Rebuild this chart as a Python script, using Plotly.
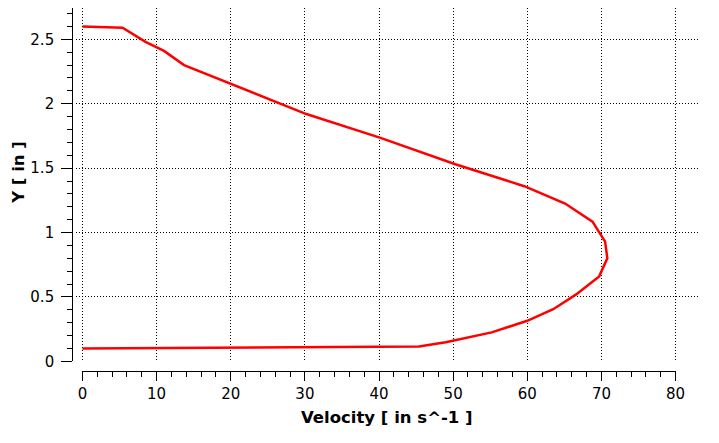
import plotly.graph_objects as go

# velocity profile (top -> bottom)
velocity = [0, 5.4, 8.5, 11.0, 13.7, 20.0, 30.2, 40.2, 50.3, 59.6, 65.1, 68.8,
            70.5, 70.8, 69.7, 66.6, 63.5, 60.0, 58.7, 55.2, 49.0, 45.4, 0]
y_pos = [2.6, 2.59, 2.48, 2.41, 2.3, 2.155, 1.92, 1.735, 1.53, 1.36, 1.225, 1.085,
         0.93, 0.8, 0.66, 0.52, 0.405, 0.315, 0.29, 0.225, 0.148, 0.115, 0.1]

x_ticks = [0, 10, 20, 30, 40, 50, 60, 70, 80]
y_ticks = [0, 0.5, 1, 1.5, 2, 2.5]

OFF = 8  # page body margin around the figure
W, H = 719 - 2 * OFF, 443 - 2 * OFF
FONT = "DejaVu Sans"
Y_TOP = (369 - OFF) / 131.6  # value at top of the visible plot area


def px_x(p):
    # window pixel -> paper fraction
    return (p - OFF) / W


def px_y(p):
    return 1 - (p - OFF) / H


fig = go.Figure()
fig.add_trace(go.Scatter(x=velocity, y=y_pos, mode="lines",
                         line=dict(color="#ff0000", width=2.5), showlegend=False))
# empty traces so the detached axes get their own subplots
fig.add_trace(go.Scatter(x=[], y=[], xaxis="x2", yaxis="y3", showlegend=False, hoverinfo="skip"))
fig.add_trace(go.Scatter(x=[], y=[], xaxis="x3", yaxis="y2", showlegend=False, hoverinfo="skip"))

grid = dict(showgrid=True, gridcolor="#000000", gridwidth=1, griddash="1px,2px",
            showticklabels=False, ticks="", zeroline=False, showline=False)
axis_vis = dict(showline=True, linecolor="#000000", linewidth=1, ticks="outside",
                tickcolor="#000000", tickwidth=1, showgrid=False, zeroline=False,
                tickfont=dict(family=FONT, size=15, color="#000000"))

fig.update_layout(
    width=W, height=H, margin=dict(l=0, r=0, t=0, b=0),
    paper_bgcolor="white", plot_bgcolor="white",
    # data + dotted grid
    xaxis=dict(domain=[px_x(72), px_x(708)], range=[-0.924, 83.04],
               tickvals=x_ticks, **grid),
    yaxis=dict(domain=[px_y(370), 1], range=[-0.0076, Y_TOP],
               tickvals=y_ticks, **grid),
    # detached x axis
    xaxis2=dict(domain=[px_x(79), px_x(685)], range=[0, 80], anchor="y3",
                tickvals=x_ticks, ticklen=9,
                minor=dict(dtick=2, tick0=0, ticks="outside", ticklen=5,
                           tickcolor="#000000", showgrid=False),
                **axis_vis),
    yaxis3=dict(domain=[px_y(379), px_y(379) + 0.002], range=[0, 1], visible=False),
    # detached y axis
    yaxis2=dict(domain=[px_y(369), 1], range=[0, Y_TOP], anchor="x3",
                tickvals=y_ticks, ticklen=11, ticklabelstandoff=4,
                minor=dict(dtick=0.1, tick0=0, ticks="outside", ticklen=5,
                           tickcolor="#000000", showgrid=False),
                **axis_vis),
    xaxis3=dict(domain=[px_x(69.5), px_x(69.5) + 0.002], range=[0, 1], visible=False),
    annotations=[
        dict(text="<b>Velocity [ in s^-1 ]</b>", xref="paper", yref="paper",
             x=px_x(390), y=px_y(426), xanchor="center", yanchor="middle",
             showarrow=False, font=dict(family=FONT, size=16.5, color="#000000")),
        dict(text="<b>Y [ in ]</b>", xref="paper", yref="paper", textangle=-90,
             x=px_x(14), y=px_y(175.5), xanchor="center", yanchor="middle",
             showarrow=False, font=dict(family=FONT, size=16.5, color="#000000")),
    ],
)

fig.write_html("out.html")
